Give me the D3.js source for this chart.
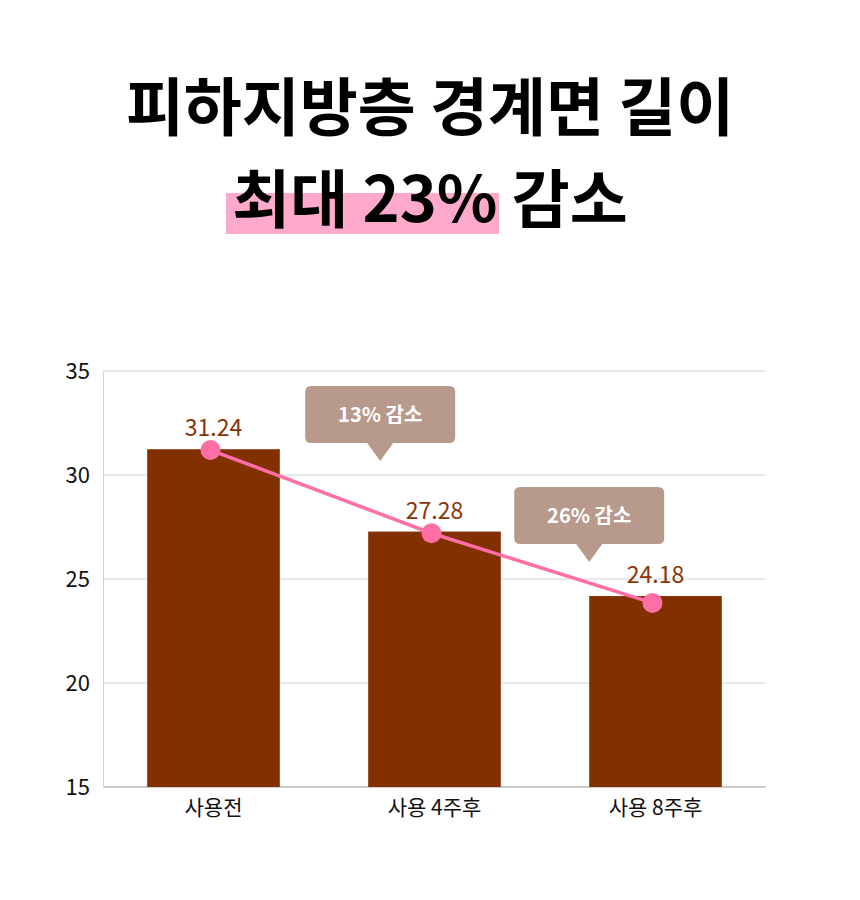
<!DOCTYPE html>
<html>
<head>
<meta charset="utf-8">
<title>피하지방층 경계면 길이</title>
<script src="https://d3js.org/d3.v7.min.js"></script>
<style>
  body { margin: 0; background: #fff; }
  svg text { font-family: "Noto Sans CJK KR", "Noto Sans", sans-serif; }
</style>
</head>
<body>
<div id="chart"></div>
<script>
// data
const categories = ["사용전", "사용 4주후", "사용 8주후"];
const values = [31.24, 27.28, 24.18];
const lineValues = [31.2, 27.2, 23.85];
const yTicks = [15, 20, 25, 30, 35];
const titleLines = ["피하지방층 경계면 길이", "최대 23% 감소"];
const calloutTexts = ["13% 감소", "26% 감소"];
const calloutCategory = ["사용 4주후", "사용 8주후"];
const calloutTipValues = [30.67, 25.82];

const W = 860, H = 900;
const margin = {top: 371, right: 94, bottom: 113, left: 103};
const innerW = W - margin.left - margin.right;
const innerH = H - margin.top - margin.bottom;

const svg = d3.select("#chart").append("svg")
    .attr("width", W)
    .attr("height", H);

// title
const title = svg.append("g");
title.append("rect")
    .attr("x", 226).attr("y", 193)
    .attr("width", 273).attr("height", 41)
    .attr("fill", "#ffaacb");
title.selectAll("text.title")
    .data(titleLines)
    .enter().append("text")
    .attr("class", "title")
    .attr("x", W / 2)
    .attr("y", (d, i) => 130 + i * 92)
    .attr("text-anchor", "middle")
    .attr("font-size", 63)
    .attr("font-weight", 700)
    .attr("fill", "#000")
    .text(d => d);

const g = svg.append("g")
    .attr("transform", `translate(${margin.left},${margin.top})`);

const x = d3.scaleBand()
    .domain(categories)
    .range([0, innerW])
    .paddingInner(0.4)
    .paddingOuter(0.2);

const y = d3.scaleLinear()
    .domain([15, 35])
    .range([innerH, 0]);

// grid lines
g.selectAll("line.grid")
    .data(yTicks)
    .enter().append("line")
    .attr("class", "grid")
    .attr("x1", 0).attr("x2", innerW)
    .attr("y1", d => y(d)).attr("y2", d => y(d))
    .attr("stroke", d => d === 15 ? "#bdbdbd" : "#d4d4d4")
    .attr("stroke-width", d => d === 15 ? 1.5 : 1);

// left axis
const yAxis = g.append("g")
    .call(d3.axisLeft(y).tickValues(yTicks).tickSize(0).tickPadding(13));
yAxis.select(".domain").attr("stroke", "#d4d4d4");
yAxis.selectAll("text")
    .attr("font-size", 22)
    .attr("fill", "#111");

// bottom axis
const xAxis = g.append("g")
    .attr("transform", `translate(0,${innerH})`)
    .call(d3.axisBottom(x).tickSize(0).tickPadding(13));
xAxis.select(".domain").remove();
xAxis.selectAll("text")
    .attr("font-size", 21)
    .attr("fill", "#111");

// bars
g.selectAll("rect.bar")
    .data(values)
    .enter().append("rect")
    .attr("class", "bar")
    .attr("x", (d, i) => x(categories[i]))
    .attr("y", d => y(d))
    .attr("width", x.bandwidth())
    .attr("height", d => innerH - y(d))
    .attr("fill", "#823000");

// value labels
g.selectAll("text.value")
    .data(values)
    .enter().append("text")
    .attr("class", "value")
    .attr("x", (d, i) => x(categories[i]) + x.bandwidth() / 2)
    .attr("y", d => y(d) - 13)
    .attr("text-anchor", "middle")
    .attr("font-size", 23)
    .attr("fill", "#8a3405")
    .text(d => d.toFixed(2));

// trend line
const cx = (d, i) => x(categories[i]) + x.bandwidth() / 2 - 3;
g.append("path")
    .datum(lineValues)
    .attr("fill", "none")
    .attr("stroke", "#ff6fa6")
    .attr("stroke-width", 3.5)
    .attr("d", d3.line().x(cx).y(d => y(d)));

g.selectAll("circle.dot")
    .data(lineValues)
    .enter().append("circle")
    .attr("class", "dot")
    .attr("cx", cx)
    .attr("cy", d => y(d))
    .attr("r", 10)
    .attr("fill", "#ff6fa6");

// callouts
const boxW = 150, boxH = 57, tailW = 26, tailH = 18;
const callouts = g.selectAll("g.callout")
    .data(calloutTexts)
    .enter().append("g")
    .attr("class", "callout")
    .attr("transform", (d, i) => {
        const tipX = x(calloutCategory[i]) + (i === 0 ? 12 : 0);
        const tipY = y(calloutTipValues[i]);
        return `translate(${tipX},${tipY})`;
    });

callouts.append("path")
    .attr("d", () => {
        const r = 6, l = -boxW / 2, rgt = boxW / 2, b = -tailH, t = -tailH - boxH;
        return `M${l + r},${t} H${rgt - r} Q${rgt},${t} ${rgt},${t + r} V${b - r} Q${rgt},${b} ${rgt - r},${b}` +
            ` H${tailW / 2} L0,0 L${-tailW / 2},${b} H${l + r} Q${l},${b} ${l},${b - r} V${t + r} Q${l},${t} ${l + r},${t} Z`;
    })
    .attr("fill", "#b89a8c");

callouts.append("text")
    .attr("x", 0)
    .attr("y", -tailH - boxH / 2)
    .attr("dy", "0.36em")
    .attr("text-anchor", "middle")
    .attr("font-size", 20)
    .attr("font-weight", 700)
    .attr("fill", "#fff")
    .text(d => d);
</script>
</body>
</html>
